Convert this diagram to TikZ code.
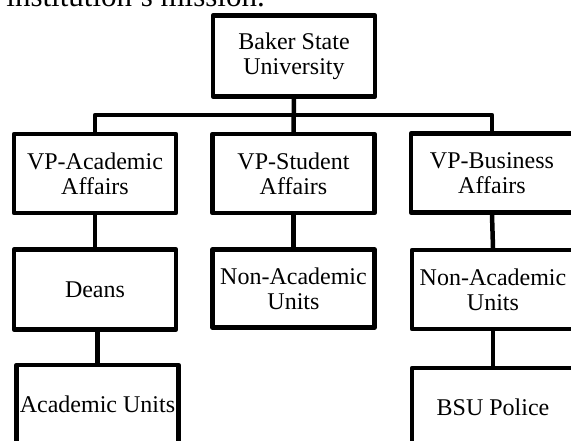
\documentclass[tikz,border=0pt]{standalone}
\usepackage{fontspec}
\setmainfont{Liberation Serif}
\begin{document}
\begin{tikzpicture}[x=1pt, y=-1pt, line join=round, line cap=round,
	unit/.style={draw, line width=4.5pt, minimum width=162pt, minimum height=79pt, inner sep=0pt, align=center, font=\fontsize{24}{25}\selectfont},
	wire/.style={line width=4.5pt}]
	\def\xmax{571}
	\def\ymax{441}
	\clip (0, 0) rectangle (\xmax, \ymax);
	% end of the text above the chart
	\node[anchor=base east, inner sep=0pt, font=\fontsize{31}{33}\selectfont] (prose) at (265, 7) {institution's mission.};
	% boxes
	\node[unit, minimum height=81pt] (bsu) at (294, 56) {Baker State\\University};
	\node[unit] (vpa) at (95, 173.5) {VP-Academic\\Affairs};
	\node[unit] (vps) at (293.5, 173.5) {VP-Student\\Affairs};
	\node[unit] (vpb) at (492, 173) {VP-Business\\Affairs};
	\node[unit, minimum height=80pt] (deans) at (95, 289.5) {Deans};
	\node[unit, minimum height=78pt] (nas) at (293.5, 288.5) {Non-Academic\\Units};
	\node[unit] (nab) at (493, 289.5) {Non-Academic\\Units};
	\node[unit] (au) at (97.5, 404.5) {Academic Units};
	\node[unit] (police) at (493, 407.5) {BSU Police};
	% lines
	\coordinate (bus) at (293.5, 115);
	\draw[wire] (bsu.south) -- (vps.north);
	\draw[wire] (vpa.north) |- (bus) -| (vpb.north);
	\draw[wire] (vpa.south) -- (deans.north);
	\draw[wire] (vps.south) -- (nas.north);
	\draw[wire] (vpb.south) -- (nab.north);
	\draw[wire] (deans.south -| au.north) -- (au.north);
	\draw[wire] (nab.south) -- (police.north);
\end{tikzpicture}
\end{document}
